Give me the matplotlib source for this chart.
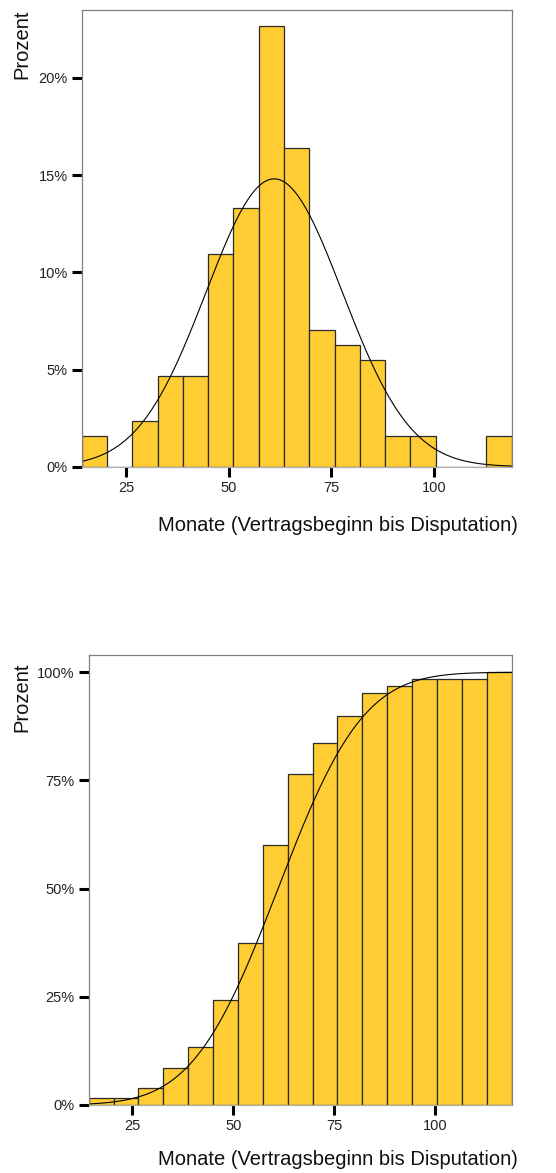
import numpy as np
import matplotlib
matplotlib.use('Agg')
import matplotlib.pyplot as plt
from matplotlib.ticker import FuncFormatter
from math import erf

plt.rcParams['font.family'] = ['Liberation Sans', 'DejaVu Sans']

# counts per bin (n = 128)
counts = [2, 0, 3, 6, 6, 14, 17, 29, 21, 9, 8, 7, 2, 2, 0, 0, 2]
n_total = 128
bin_start = 14.2
bin_width = 6.16
# fitted normal curve
mu = 61.1
sigma = 16.6

xticks = [25, 50, 75, 100]
yticks_top = [0, 5, 10, 15, 20]
yticks_bottom = [0, 25, 50, 75, 100]
xlabel = 'Monate (Vertragsbeginn bis Disputation)'
ylabel = 'Prozent'

pct = np.array(counts) / n_total * 100
cum_pct = np.cumsum(counts) / n_total * 100
edges = bin_start + bin_width * np.arange(len(counts) + 1)
xmin, xmax = edges[0], edges[-1]

bar_color = '#FFCC33'
edge_color = '#2b2b2b'

fig = plt.figure(figsize=(5.56, 11.73), dpi=100)
ax1 = fig.add_axes([0.147, 0.6021, 0.773, 0.3896])
ax2 = fig.add_axes([0.1595, 0.0580, 0.7605, 0.3833])


def style(ax, yticks, ylim):
    ax.set_xlim(xmin, xmax)
    ax.set_ylim(0, ylim)
    ax.set_xticks(xticks)
    ax.set_yticks(yticks)
    ax.yaxis.set_major_formatter(FuncFormatter(lambda v, p: '%d%%' % v))
    for s in ax.spines.values():
        s.set_color('#808080')
        s.set_linewidth(0.9)
    ax.spines['bottom'].set_color('#b0b0b0')
    ax.tick_params(axis='both', length=7, width=2.2, color='black',
                   labelsize=10.5, labelcolor='#222222', pad=3)


xs = np.linspace(xmin, xmax, 400)

ax1.bar(edges[:-1], pct, width=bin_width, align='edge', color=bar_color,
        edgecolor=edge_color, linewidth=0.9)
dens = 100 * bin_width / (sigma * np.sqrt(2 * np.pi)) * np.exp(-0.5 * ((xs - mu) / sigma) ** 2)
ax1.plot(xs, dens, color='black', linewidth=0.8)
style(ax1, yticks_top, 23.5)

ax2.bar(edges[:-1], cum_pct, width=bin_width, align='edge', color=bar_color,
        edgecolor=edge_color, linewidth=0.9)
cdf = np.array([50 * (1 + erf((x - mu) / (sigma * np.sqrt(2)))) for x in xs])
ax2.plot(xs, cdf, color='black', linewidth=0.8)
style(ax2, yticks_bottom, 103.9)

# axis titles
lab = dict(fontsize=14.5, color='#111111')
fig.text(0.9317, 0.5524, xlabel, ha='right', va='center', **lab)
fig.text(0.9317, 0.0111, xlabel, ha='right', va='center', **lab)
fig.text(0.0396, 0.9915, ylabel, ha='center', va='top', rotation=90, **lab)
fig.text(0.0396, 0.4348, ylabel, ha='center', va='top', rotation=90, **lab)

fig.savefig('out.png', dpi=100)
